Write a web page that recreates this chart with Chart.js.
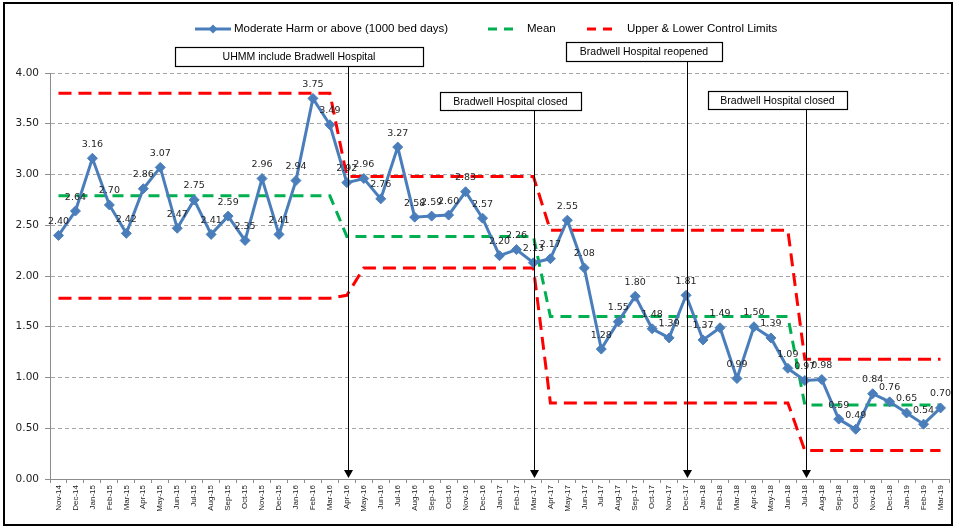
<!DOCTYPE html>
<html>
<head>
<meta charset="utf-8">
<script src="https://cdn.jsdelivr.net/npm/chart.js@4.4.1/dist/chart.umd.min.js"></script>
<style>
  html, body { margin: 0; padding: 0; background: #fff; }
</style>
</head>
<body>
<canvas id="spcChart" width="955" height="527"></canvas>
<script>
// months on the x axis
const months = ['Nov-14','Dec-14','Jan-15','Feb-15','Mar-15','Apr-15','May-15','Jun-15','Jul-15','Aug-15','Sep-15','Oct-15',
  'Nov-15','Dec-15','Jan-16','Feb-16','Mar-16','Apr-16','May-16','Jun-16','Jul-16','Aug-16','Sep-16','Oct-16',
  'Nov-16','Dec-16','Jan-17','Feb-17','Mar-17','Apr-17','May-17','Jun-17','Jul-17','Aug-17','Sep-17','Oct-17',
  'Nov-17','Dec-17','Jan-18','Feb-18','Mar-18','Apr-18','May-18','Jun-18','Jul-18','Aug-18','Sep-18','Oct-18',
  'Nov-18','Dec-18','Jan-19','Feb-19','Mar-19'];

// moderate harm or above per 1000 bed days
const harmRate = [2.40, 2.64, 3.16, 2.70, 2.42, 2.86, 3.07, 2.47, 2.75, 2.41, 2.59, 2.35,
  2.96, 2.41, 2.94, 3.75, 3.49, 2.92, 2.96, 2.76, 3.27, 2.58, 2.59, 2.60,
  2.83, 2.57, 2.20, 2.26, 2.13, 2.17, 2.55, 2.08, 1.28, 1.55, 1.80, 1.48,
  1.39, 1.81, 1.37, 1.49, 0.99, 1.50, 1.39, 1.09, 0.97, 0.98, 0.59, 0.49,
  0.84, 0.76, 0.65, 0.54, 0.70];

const meanLine = [2.79, 2.79, 2.79, 2.79, 2.79, 2.79, 2.79, 2.79, 2.79, 2.79, 2.79, 2.79,
  2.79, 2.79, 2.79, 2.79, 2.79, 2.39, 2.39, 2.39, 2.39, 2.39, 2.39, 2.39,
  2.39, 2.39, 2.39, 2.39, 2.39, 1.60, 1.60, 1.60, 1.60, 1.60, 1.60, 1.60,
  1.60, 1.60, 1.60, 1.60, 1.60, 1.60, 1.60, 1.60, 0.73, 0.73, 0.73, 0.73,
  0.73, 0.73, 0.73, 0.73, 0.73];

const upperLimit = [3.80, 3.80, 3.80, 3.80, 3.80, 3.80, 3.80, 3.80, 3.80, 3.80, 3.80, 3.80,
  3.80, 3.80, 3.80, 3.80, 3.80, 2.98, 2.98, 2.98, 2.98, 2.98, 2.98, 2.98,
  2.98, 2.98, 2.98, 2.98, 2.98, 2.45, 2.45, 2.45, 2.45, 2.45, 2.45, 2.45,
  2.45, 2.45, 2.45, 2.45, 2.45, 2.45, 2.45, 2.45, 1.18, 1.18, 1.18, 1.18,
  1.18, 1.18, 1.18, 1.18, 1.18];

const lowerLimit = [1.78, 1.78, 1.78, 1.78, 1.78, 1.78, 1.78, 1.78, 1.78, 1.78, 1.78, 1.78,
  1.78, 1.78, 1.78, 1.78, 1.78, 1.81, 2.08, 2.08, 2.08, 2.08, 2.08, 2.08,
  2.08, 2.08, 2.08, 2.08, 2.08, 0.75, 0.75, 0.75, 0.75, 0.75, 0.75, 0.75,
  0.75, 0.75, 0.75, 0.75, 0.75, 0.75, 0.75, 0.75, 0.28, 0.28, 0.28, 0.28,
  0.28, 0.28, 0.28, 0.28, 0.28];

// events marked with arrows
const eventMonths = ['Apr-16', 'Mar-17', 'Dec-17', 'Jul-18'];
const eventLabels = ['UHMM include Bradwell Hospital', 'Bradwell Hospital closed', 'Bradwell Hospital reopened', 'Bradwell Hospital closed'];

const blue = '#4a7ebb';
const green = '#00b050';
const red = '#ff0000';

// box placement for each event label (left, top, width, height)
const eventBoxes = [
  { left: 175, top: 47, w: 248, h: 19 },
  { left: 440, top: 92, w: 141, h: 18 },
  { left: 566, top: 42, w: 156, h: 19 },
  { left: 708, top: 91, w: 139, h: 18 }
];

const spcPlugin = {
  id: 'spcExtras',
  afterDatasetsDraw(chart) {
    const ctx = chart.ctx;
    const meta = chart.getDatasetMeta(0);
    ctx.save();
    ctx.font = '9.5px "DejaVu Sans"';
    ctx.fillStyle = '#262626';
    ctx.textAlign = 'center';
    ctx.textBaseline = 'middle';
    meta.data.forEach(function (pt, i) {
      ctx.fillText(harmRate[i].toFixed(2), pt.x, pt.y - 14);
    });
    ctx.restore();
  },
  afterDraw(chart) {
    const ctx = chart.ctx;
    const xs = chart.scales.x;
    const bottom = chart.chartArea.bottom;
    ctx.save();

    // event boxes + arrows
    eventMonths.forEach(function (m, i) {
      const b = eventBoxes[i];
      const x = Math.round(xs.getPixelForValue(months.indexOf(m))) + 1.5;
      ctx.strokeStyle = '#000';
      ctx.lineWidth = 1;
      ctx.beginPath();
      ctx.moveTo(x, b.top + b.h);
      ctx.lineTo(x, bottom - 7);
      ctx.stroke();
      ctx.fillStyle = '#000';
      ctx.beginPath();
      ctx.moveTo(x - 4.5, bottom - 9);
      ctx.lineTo(x + 4.5, bottom - 9);
      ctx.lineTo(x, bottom - 1);
      ctx.closePath();
      ctx.fill();

      ctx.fillStyle = '#fff';
      ctx.fillRect(b.left, b.top, b.w, b.h);
      ctx.lineWidth = 1.2;
      ctx.strokeRect(b.left + 0.5, b.top + 0.5, b.w, b.h);
      ctx.fillStyle = '#000';
      ctx.font = '10.5px "Liberation Sans"';
      ctx.textAlign = 'center';
      ctx.textBaseline = 'middle';
      ctx.fillText(eventLabels[i], b.left + b.w / 2, b.top + b.h / 2 + 1);
    });

    // legend
    const ly = 29;
    ctx.font = '11.5px "Liberation Sans"';
    ctx.textAlign = 'left';
    ctx.textBaseline = 'middle';
    ctx.lineWidth = 3;
    ctx.strokeStyle = blue;
    ctx.beginPath();
    ctx.moveTo(195, ly);
    ctx.lineTo(231, ly);
    ctx.stroke();
    ctx.fillStyle = blue;
    ctx.beginPath();
    ctx.moveTo(213, ly - 4.5);
    ctx.lineTo(217.5, ly);
    ctx.lineTo(213, ly + 4.5);
    ctx.lineTo(208.5, ly);
    ctx.closePath();
    ctx.fill();
    ctx.fillStyle = '#000';
    ctx.fillText('Moderate Harm or above (1000 bed days)', 234, ly);

    ctx.setLineDash([9, 7]);
    ctx.strokeStyle = green;
    ctx.beginPath();
    ctx.moveTo(488, ly);
    ctx.lineTo(520, ly);
    ctx.stroke();
    ctx.fillText('Mean', 527, ly);

    ctx.strokeStyle = red;
    ctx.beginPath();
    ctx.moveTo(587, ly);
    ctx.lineTo(619, ly);
    ctx.stroke();
    ctx.fillText('Upper & Lower Control Limits', 627, ly);
    ctx.setLineDash([]);

    // outer frame
    ctx.strokeStyle = '#000';
    ctx.lineWidth = 2;
    ctx.strokeRect(4, 3, 948, 522);
    ctx.restore();
  }
};

const ctx = document.getElementById('spcChart');
const spcChart = new Chart(ctx, {
  type: 'line',
  data: {
    labels: months,
    datasets: [
      {
        label: 'Moderate Harm or above (1000 bed days)',
        data: harmRate,
        borderColor: blue,
        backgroundColor: blue,
        borderWidth: 3,
        pointStyle: 'rectRot',
        pointRadius: 5,
        pointBorderWidth: 1,
        fill: false
      },
      {
        label: 'Mean',
        data: meanLine,
        borderColor: green,
        borderWidth: 3,
        borderDash: [11, 7],
        pointRadius: 0,
        fill: false
      },
      {
        label: 'Upper & Lower Control Limits',
        data: upperLimit,
        borderColor: red,
        borderWidth: 3,
        borderDash: [13, 7],
        pointRadius: 0,
        fill: false
      },
      {
        label: 'Lower Control Limit',
        data: lowerLimit,
        borderColor: red,
        borderWidth: 3,
        borderDash: [13, 7],
        pointRadius: 0,
        fill: false
      }
    ]
  },
  options: {
    responsive: false,
    animation: false,
    devicePixelRatio: 1,
    layout: { padding: { top: 73, right: 5, bottom: 6, left: 0 } },
    plugins: {
      legend: { display: false },
      tooltip: { enabled: false }
    },
    scales: {
      x: {
        offset: true,
        grid: { display: true, drawOnChartArea: false, offset: true, tickLength: 4, color: '#8c8c8c' },
        border: { color: '#8c8c8c', width: 1 },
        ticks: {
          autoSkip: false,
          maxRotation: 90,
          minRotation: 90,
          padding: 2,
          color: '#1a1a1a',
          font: { family: 'Liberation Sans', size: 8 }
        },
        afterFit: function (s) { s.height = 42; }
      },
      y: {
        min: 0,
        max: 4,
        ticks: {
          stepSize: 0.5,
          padding: 6,
          color: '#222',
          font: { family: 'DejaVu Sans', size: 10.5 },
          callback: function (v) { return Number(v).toFixed(2); }
        },
        grid: { color: '#a6a6a6', tickLength: 5, tickColor: '#8c8c8c' },
        border: { color: '#8c8c8c', width: 1, dash: [4, 3] },
        afterFit: function (s) { s.width = 50; }
      }
    }
  },
  plugins: [spcPlugin]
});
</script>
</body>
</html>
